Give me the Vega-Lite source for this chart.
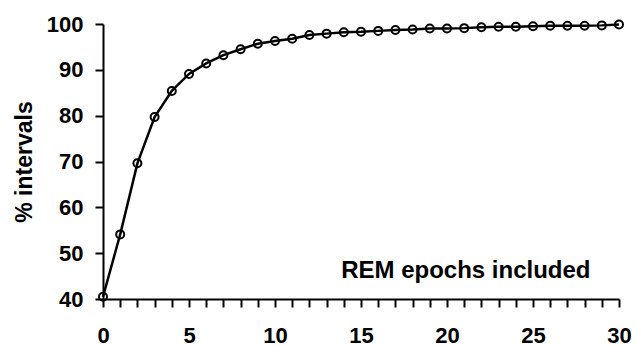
{
  "$schema": "https://vega.github.io/schema/vega-lite/v6.json",
  "padding": {"left": 13, "top": 13, "right": 0, "bottom": 0},
  "width": 516,
  "height": 275,
  "config": {
    "view": {"stroke": null}
  },
  "data": {
    "values": [
      {"epochs": 0, "pct": 40.5},
      {"epochs": 1, "pct": 54.1},
      {"epochs": 2, "pct": 69.6},
      {"epochs": 3, "pct": 79.7},
      {"epochs": 4, "pct": 85.4},
      {"epochs": 5, "pct": 89.1},
      {"epochs": 6, "pct": 91.4},
      {"epochs": 7, "pct": 93.2},
      {"epochs": 8, "pct": 94.5},
      {"epochs": 9, "pct": 95.7},
      {"epochs": 10, "pct": 96.3},
      {"epochs": 11, "pct": 96.8},
      {"epochs": 12, "pct": 97.6},
      {"epochs": 13, "pct": 97.9},
      {"epochs": 14, "pct": 98.2},
      {"epochs": 15, "pct": 98.3},
      {"epochs": 16, "pct": 98.5},
      {"epochs": 17, "pct": 98.7},
      {"epochs": 18, "pct": 98.8},
      {"epochs": 19, "pct": 99.0},
      {"epochs": 20, "pct": 99.0},
      {"epochs": 21, "pct": 99.1},
      {"epochs": 22, "pct": 99.3},
      {"epochs": 23, "pct": 99.4},
      {"epochs": 24, "pct": 99.4},
      {"epochs": 25, "pct": 99.5},
      {"epochs": 26, "pct": 99.6},
      {"epochs": 27, "pct": 99.6},
      {"epochs": 28, "pct": 99.6},
      {"epochs": 29, "pct": 99.7},
      {"epochs": 30, "pct": 99.9}
    ]
  },
  "encoding": {
    "x": {
      "field": "epochs",
      "type": "quantitative",
      "scale": {"domain": [0, 30], "nice": false},
      "axis": {
        "grid": false,
        "values": [0,1,2,3,4,5,6,7,8,9,10,11,12,13,14,15,16,17,18,19,20,21,22,23,24,25,26,27,28,29,30],
        "labelExpr": "datum.value % 5 === 0 ? datum.label : ''",
        "ticks": true,
        "tickSize": 8,
        "tickWidth": 2,
        "tickColor": "#000000",
        "domainColor": "#000000",
        "domainWidth": 2,
        "labelFont": "Liberation Sans",
        "labelFontWeight": "bold",
        "labelFontSize": 22,
        "labelPadding": 18,
        "labelOverlap": false,
        "labelFlush": false,
        "title": "REM epochs included",
        "titleFont": "Liberation Sans",
        "titleFontWeight": "bold",
        "titleFontSize": 24,
        "titleAlign": "right",
        "titleBaseline": "alphabetic",
        "titleX": 487,
        "titleY": -22
      }
    },
    "y": {
      "field": "pct",
      "type": "quantitative",
      "scale": {"domain": [40, 100], "nice": false},
      "axis": {
        "grid": false,
        "values": [40, 50, 60, 70, 80, 90, 100],
        "ticks": true,
        "tickSize": 8,
        "tickWidth": 2,
        "tickColor": "#000000",
        "domainColor": "#000000",
        "domainWidth": 2,
        "labelFont": "Liberation Sans",
        "labelFontWeight": "bold",
        "labelFontSize": 22,
        "labelPadding": 12,
        "title": "% intervals",
        "titleFont": "Liberation Sans",
        "titleFontWeight": "bold",
        "titleFontSize": 23,
        "titlePadding": 10
      }
    }
  },
  "layer": [
    {"mark": {"type": "line", "color": "black", "strokeWidth": 2.5}},
    {"mark": {"type": "point", "shape": "circle", "filled": false, "color": "black", "strokeWidth": 2, "size": 64, "opacity": 1}}
  ]
}
